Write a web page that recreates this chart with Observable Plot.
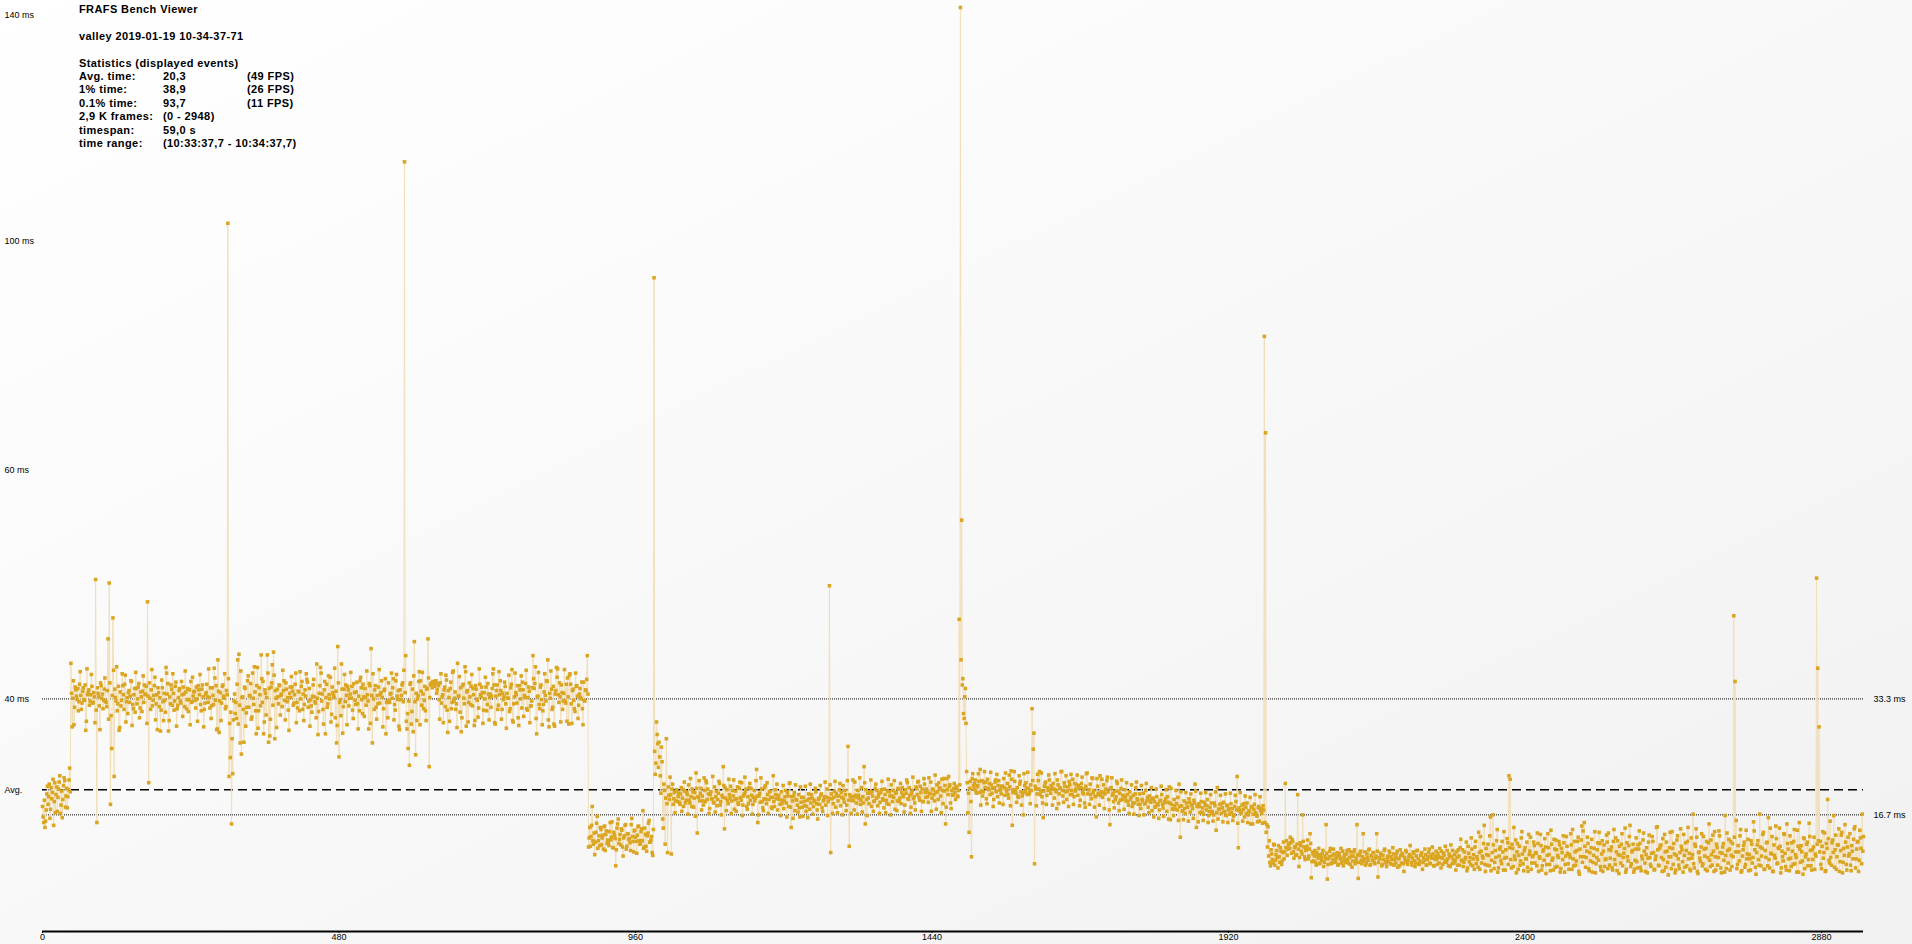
<!DOCTYPE html>
<html><head><meta charset="utf-8">
<script src="https://cdn.jsdelivr.net/npm/d3@7"></script>
<script src="https://cdn.jsdelivr.net/npm/@observablehq/plot@0.6"></script>
<style>
html,body{margin:0;padding:0;}
body{width:1912px;height:944px;overflow:hidden;background:linear-gradient(to bottom right,#ffffff 0%,#f9f9f9 45%,#f1f1f1 100%);}
#wrap{position:relative;width:1912px;height:944px;}
#stats{position:absolute;left:79px;top:3px;font:bold 11px "Liberation Sans",Arial,sans-serif;letter-spacing:0.4px;line-height:13.4px;color:#000;}
#stats .row{display:grid;grid-template-columns:84px 84px auto;white-space:pre;height:13.4px;}
#chart{position:absolute;left:0;top:0;}
</style></head>
<body><div id="wrap"><div id="chart"></div><div id="stats"></div></div>
<script>
// ---- text ----
const headerLines = ["FRAFS Bench Viewer", "", "valley 2019-01-19 10-34-37-71", "", "Statistics (displayed events)"];
const statNames = ["Avg. time:", "1% time:", "0.1% time:", "2,9 K frames:", "timespan:", "time range:"];
const statValues = ["20,3", "38,9", "93,7", "(0 - 2948)", "59,0 s", "(10:33:37,7 - 10:34:37,7)"];
const statFps = ["(49 FPS)", "(26 FPS)", "(11 FPS)", "", "", ""];

// ---- axes ----
const xTicks = [0, 480, 960, 1440, 1920, 2400, 2880];
const yTickValues = [33.3, 66.1, 98.9, 131.2];
const yTickLabels = ["40 ms", "60 ms", "100 ms", "140 ms"];
const refLines = [33.3, 16.7];
const refLabels = ["33.3 ms", "16.7 ms"];
const avgMs = 20.3;

// ---- frame times (ms): even frames ----
const segStart = [17.9,15.6,14.9,17.4,20.8,19.3,16.2,20.6,19.9,15.2,21.3,19.6,17.2,20.4,22.3,18.1,16.3,20.9,21.6,19.4,17.7,20.3,23.4];

const segHigh = [
38.4,29.3,35.9,32.1,34.6,33.2,31.6,35.4,33.8,32.7,34.9,33.1,28.8,37.6,34.2,32.4,33.9,35.1,32.8,33.6,
50.4,15.6,34.1,32.3,35.6,33.4,31.9,34.7,33.0,32.2,41.9,49.9,18.2,26.2,44.9,22.2,33.5,37.9,32.6,28.8,
34.3,33.1,35.2,31.8,36.7,32.9,31.2,34.5,33.7,35.8,32.5,33.9,31.4,34.8,33.3,35.5,32.0,33.6,34.4,32.8,
33.9,35.1,47.2,21.3,33.4,34.6,32.3,33.8,36.4,32.6,28.9,34.2,33.5,31.7,34.9,30.2,33.1,37.8,34.0,28.7,
33.6,35.3,32.4,34.1,33.0,35.7,31.9,33.5,34.8,32.7,33.9,35.0,32.2,34.3,33.2,31.5,34.6,35.8,32.9,33.7,
34.4,32.0,33.3,35.2,33.9,32.5,34.7,33.6,31.8,34.0,35.4,32.8,33.5,34.9,32.3,33.8,37.7,33.1,28.9,38.9,
28.5,34.2,32.7,35.3,33.4,31.9,34.5,101.4,22.2,24.9,15.4,22.6,33.0,31.2,30.5,38.9,39.7,27.0,25.4,33.6,
27.1,34.8,31.3,35.9,32.1,33.7,30.4,37.0,32.5,34.3,28.3,37.8,31.6,33.9,39.6,32.8,28.3,34.6,31.0,39.6,
27.1,28.0,35.0,38.2,40.0,27.6,33.4,34.7,32.6,35.2,33.8,32.2,34.5,33.1,35.6,32.9,31.7,34.1,33.5,35.0,
32.4,33.9,37.0,32.8,34.4,31.6,33.3,35.8,34.0,32.5,33.7,36.1,32.1,34.8,33.2,31.4,35.3,33.6,32.7,38.3,
28.2,34.1,37.8,33.0,31.8,34.6,28.3,35.4,32.6,33.9,36.4,31.1,34.2,33.5,30.6,27.0,40.8,25.0,33.2,38.3,
28.4,34.7,32.9,33.8,35.1,32.3,34.0,33.4,31.7,35.5,33.1,34.3,32.6,33.7,35.9,34.9,31.2,33.6,34.8,32.4,
33.9,29.0,35.2,40.5,27.0,33.3,34.6,32.1,33.8,35.0,32.7,34.2,33.5,31.9,34.7,28.3,33.0,35.6,32.8,34.1,
33.4,36.2,32.5,35.9,33.7,34.5,28.9,33.2,35.3,32.9,110.2,39.5,29.0,26.2,23.8,35.6,31.5,28.6,41.5,25.3,
30.2,33.8,37.2,35.9,32.4,34.0,33.1,31.6,34.7,41.9,23.6,35.3,35.6,35.8,35.4,35.7,34.1,35.5,33.2,35.6,
32.7,33.9,34.6,32.2,36.0,28.5,33.5,34.8,31.9,37.1,33.0,34.3,32.6,38.4,33.7,31.4,28.6,35.2,33.4,37.9,
29.4,34.5,32.8,33.6,35.1,32.3,33.9,30.2,34.7,33.1,32.0,35.4,33.6,34.2,31.7,33.3,35.0,32.5,34.0,33.5,
32.1,34.8,37.6,29.9,33.7,35.3,32.4,33.9,34.5,31.8,33.2,35.7,32.6,34.1,33.4,31.5,34.9,37.5,30.0,33.6,
34.2,32.7,30.6,35.2,33.3,32.0,34.6,33.8,35.5,31.9,33.5,34.4,32.3,33.0,39.5,34.8,37.9,28.3,33.7,32.5,
35.0,33.2,31.6,34.3,33.8,35.9,38.9,29.3,33.4,34.7,32.1,29.7,34.0,37.8,37.6,32.8,33.6,35.3,31.8,34.1,
33.0,35.4,36.3,29.7,36.9,32.6,34.5,33.1,31.5,35.1,33.7,32.4,34.8,33.3,31.9,35.7,33.0,34.5,39.5];

const segLow = [
12.1,14.9,13.6,17.9,12.5,11.0,14.2,16.5,13.0,12.3,
14.6,13.4,11.8,15.1,13.9,12.6,12.7,14.3,13.1,15.7,
12.0,13.8,9.4,14.8,16.1,13.2,12.4,14.5,10.8,13.7,
15.3,12.2,14.0,13.3,11.6,16.2,12.9,14.4,13.5,11.2,
15.0,13.0,12.6,14.7,17.3,12.1,13.9,11.5,14.1,15.9,
12.8,13.6,10.9,93.6];

const segMid = [
22.5,30.0,26.9,27.1,22.3,26.4,16.1,21.1,12.5,27.6,11.3,19.5,22.1,11.1,21.1,19.0,17.0,20.3,18.6,19.8,
18.2,20.6,19.1,17.9,20.1,18.8,19.6,21.0,18.4,19.3,20.4,17.8,19.9,22.7,14.1,19.2,18.7,20.5,19.4,18.1,
20.2,21.6,18.9,19.7,17.6,20.0,19.0,18.5,20.7,19.3,18.0,19.8,21.2,18.6,19.5,23.6,14.7,19.1,20.3,18.3,
19.6,20.8,18.7,19.4,17.5,20.1,19.0,18.4,20.5,19.2,21.3,18.1,19.7,20.0,17.9,19.3,20.6,18.8,19.5,18.2,
20.2,19.1,23.2,15.6,19.4,18.5,20.4,17.7,19.0,20.9,18.3,19.6,18.9,20.1,17.8,19.2,18.6,20.3,19.0,17.4,
19.5,18.2,20.0,18.8,17.6,19.3,18.4,19.9,17.9,21.3,14.9,18.7,19.4,17.3,18.9,18.1,19.6,16.4,18.5,17.8,
19.2,18.0,17.2,18.8,19.7,17.5,18.4,19.1,17.9,18.6,20.0,17.4,18.9,18.2,19.5,17.7,18.7,19.3,18.1,20.4,
18.6,49.5,11.3,19.0,18.3,20.1,17.8,19.4,18.7,20.3,18.0,19.2,20.9,18.5,19.6,18.1,26.5,12.2,19.3,18.8,
21.7,17.4,19.5,18.4,20.2,19.0,18.2,20.6,19.3,23.6,15.4,18.9,19.8,18.3,20.0,17.9,19.4,18.6,20.5,19.1,
18.0,19.7,18.5,20.3,19.0,17.7,19.6,18.8,20.1,18.2,19.4,21.0,18.6,19.2,17.5,19.9,18.7,20.4,19.1,18.3,
20.6,19.3,18.1,19.8,21.3,18.9,19.5,17.8,20.2,19.0,18.4,20.7,19.6,21.5,18.8,19.9,20.4,18.6,21.1,19.2,
20.0,18.5,19.7,21.4,19.1,20.3,18.7,19.9,21.0,18.9,20.5,19.4,21.8,18.3,20.1,15.4,21.9,19.6,20.8,18.4,
20.2,19.5,21.2,18.9,20.6,19.3,44.7,132.3,58.9,36.2,30.5,34.8,22.9,17.0,14.2,21.5,10.7,22.6,20.4,21.7,
19.8,20.9,21.5,23.2,20.1,19.4,21.3,20.6,19.0,21.8,20.3,19.6,21.0,20.5,18.9,21.4,20.0,19.3,21.6,20.2,
19.7,20.8,21.9,19.5,20.4,21.2,19.1,20.7,23.0,15.2,20.3,21.5,19.8,20.6,19.2,21.1,20.0,19.4,16.7,20.9,
21.3,19.6,20.5,19.9,21.0,31.9,26.1,9.7,20.4,19.7,21.6,22.9,20.1,19.3,16.3,20.8,21.4,19.5,20.2,21.7,
19.8,20.6,21.2,19.1,20.3,17.6,21.0,19.7,20.5,22.9,19.4,21.3,20.0,18.9,20.7,21.5,19.6,20.2,21.8,19.3,
20.1,21.0,19.5,20.6,18.8,21.2,19.9,20.4,17.8,22.6,19.7,20.3,21.1,19.0,21.9,20.2,19.4,16.4,20.8,19.6,
22.3,20.0,19.2,21.0,19.7,20.4,22.1,18.9,15.3,20.6,19.5,18.6,20.1,19.3,21.2,18.4,19.8,20.5,18.9,19.4,
20.3,18.7,19.6,18.1,20.0,19.2,17.9,19.5,18.4,20.6,19.0,18.2,19.7,17.6,18.9,19.8,18.3,20.2,18.7,17.8,
19.4,18.5,17.3,19.1,18.6,17.9,19.3,18.1,17.4,18.8,19.6,17.7,18.4,19.0,17.2,18.5,20.7,16.0,18.2,17.6,
18.9,17.5,18.3,19.2,21.1,13.5,18.0,17.3,18.7,16.9,18.4,17.8,19.0,17.1,18.2,17.6,18.8,21.1,14.9,17.9,
18.3,17.0,18.6,17.7,16.8,18.1,17.4,18.9,16.6,17.8,18.4,17.2,16.7,18.0,14.5,20.6,17.5,18.2,16.9,17.7,
18.5,17.1,16.6,18.0,17.4,16.8,18.3,17.6,16.5,17.9,18.6,22.2,12.0,17.3,16.9,18.1,17.5,16.4,17.8,18.4,
16.7,17.2,15.4,17.9,16.8,18.2,17.0,16.5,17.7,15.8,17.3,16.9,18.0];

const segFast = [
85.2,71.4,15.3,15.0,13.0,9.4,11.1,9.8,12.4,10.2,11.6,9.1,10.7,12.0,9.6,11.3,10.4,21.2,13.0,11.8,
12.6,13.5,11.2,12.9,10.5,12.2,11.0,19.6,9.3,12.7,11.5,16.7,12.1,10.3,11.7,13.1,10.8,14.0,7.7,11.4,
10.1,11.6,9.5,10.9,11.9,9.8,10.6,11.2,9.3,10.8,15.3,7.5,10.4,11.5,9.7,10.9,11.8,9.9,10.5,11.3,
9.6,10.7,11.9,10.1,9.4,11.0,10.3,11.6,9.8,10.6,11.4,9.2,10.8,11.7,10.0,15.3,7.6,10.9,11.5,9.7,
14.0,10.4,9.5,11.1,10.2,11.8,9.6,10.7,11.3,9.9,10.5,14.0,7.8,10.6,11.2,9.4,10.9,11.6,10.0,9.3,
10.8,11.5,9.7,10.3,12.0,9.5,10.6,11.1,9.2,10.4,11.7,9.8,10.9,8.6,10.2,11.4,9.6,10.7,12.3,9.9,
10.5,11.2,9.3,10.8,11.6,9.7,10.1,11.0,8.9,10.6,11.8,9.5,10.3,11.3,9.8,10.9,12.1,9.4,10.4,11.5,
9.6,10.7,11.9,9.1,10.5,11.2,9.9,10.2,11.6,9.4,10.8,12.4,9.7,10.3,11.0,8.8,10.6,11.7,9.5,13.2,
10.1,9.3,11.4,10.6,8.7,12.2,10.0,9.6,11.8,10.4,8.9,12.9,10.7,9.2,11.3,13.6,9.8,10.5,15.2,8.6,
11.0,12.5,9.4,16.4,10.2,16.7,9.0,11.6,13.0,8.5,10.8,12.1,9.7,11.4,14.3,8.8,10.6,12.7,22.3,21.8,
9.1,11.9,14.9,10.3,8.4,12.6,10.9,9.5,13.4,11.1,8.7,12.0,10.4,9.2,13.9,11.5,8.9,10.7,12.8,9.8,
11.2,14.1,8.6,10.5,12.3,9.4,11.7,13.3,8.3,10.9,12.0,9.6,14.5,10.2,8.8,11.8,13.1,9.3,10.6,12.4,
9.0,11.3,13.7,8.5,10.8,12.2,9.7,11.0,14.0,8.9,10.4,12.9,9.5,11.6,13.5,8.2,10.7,15.1,14.4,15.6,
9.2,11.5,12.6,8.7,10.1,13.2,9.9,11.9,8.4,10.6,12.7,14.2,9.3,11.1,8.6,12.4,10.3,13.8,9.0,11.7,
10.5,12.1,8.8,14.6,9.6,11.4,13.0,8.3,10.9,12.5,9.4,11.2,14.8,8.9,10.7,12.3,15.2,9.7,11.6,8.5,
10.2,13.4,9.1,11.8,12.6,8.7,10.4,14.1,9.8,11.0,8.4,12.8,10.6,9.3,13.6,11.3,8.9,10.8,15.0,9.5,
11.9,12.4,8.6,10.3,13.9,9.2,11.5,8.1,12.0,10.7,14.3,9.6,11.1,8.8,13.1,10.4,9.0,14.7,11.7,8.5,
10.9,12.7,9.4,14.9,11.2,8.7,10.5,16.8,9.1,12.2,13.5,8.3,11.4,10.0,14.0,9.7,11.8,8.9,12.9,10.6,
15.4,9.3,11.0,13.8,8.6,10.7,12.5,9.5,14.4,11.3,8.4,12.1,10.2,16.6,9.0,11.6,13.2,8.8,10.9,12.6,
45.2,35.8,15.9,9.6,11.4,13.7,8.5,10.8,12.3,9.2,14.5,11.1,8.7,10.4,13.0,9.8,15.7,11.7,8.2,12.4,
10.3,16.8,9.4,11.9,14.2,8.9,10.6,12.8,16.3,9.1,11.2,13.6,8.6,10.9,15.1,9.7,12.0,14.8,8.4,11.5,
10.1,13.9,9.3,15.4,11.8,8.7,10.5,12.7,9.6,14.6,11.0,8.5,12.2,15.6,9.9,11.4,8.2,13.3,10.7,12.5,
9.4,15.5,11.6,8.8,10.3,13.5,11.1,50.6,37.7,29.3,12.9,9.0,14.3,11.3,8.6,12.6,18.9,10.2,15.8,9.5,
13.1,16.6,11.7,8.9,12.4,14.7,10.0,13.8,8.4,11.9,15.3,9.6,12.1,10.8,14.0,8.7,11.5,13.2,15.0,10.4,
12.8,8.6,14.5,11.9,16.8,13.6];

// ---- frame times (ms): odd frames ----
const segStartOdd = [16.4,18.8,15.8,19.7,18.2,21.1,17.5,19.0,21.8,18.6,17.0,20.7,19.2,21.4,16.9,20.1,18.9,22.0,17.8,20.5,19.3,21.7,20.0];

const segHighOdd = [
34.1,33.4,29.6,35.0,33.7,34.8,32.9,37.2,31.8,34.4,33.2,35.3,30.1,33.9,34.6,33.0,36.8,32.7,34.2,29.9,
31.7,34.9,33.6,28.9,35.2,34.0,33.1,36.3,32.8,34.5,30.4,35.6,30.9,33.8,37.4,34.7,33.0,31.6,35.1,29.2,
32.3,36.9,33.9,35.4,30.0,33.5,34.2,32.8,35.9,29.5,31.9,34.8,37.1,32.6,35.0,30.6,34.3,31.5,36.6,35.3,
34.0,29.8,33.7,35.6,31.8,37.5,33.1,35.2,30.3,33.9,34.9,32.2,28.7,36.0,32.9,34.1,31.4,37.0,35.5,30.2,
32.6,34.7,36.9,31.7,35.1,29.4,32.4,34.5,33.0,35.8,30.8,34.0,37.3,31.9,34.8,33.2,29.6,32.8,36.4,34.3,
33.1,35.0,30.1,34.6,36.8,31.6,35.3,29.3,32.7,34.2,33.6,37.6,32.0,30.5,34.9,32.5,36.3,35.2,29.0,34.4,
33.0,30.2,35.1,33.7,36.9,32.2,33.9,36.2,29.8,31.4,27.6,30.3,34.0,32.8,35.4,29.7,32.4,37.3,33.5,31.8,
35.0,29.4,32.1,36.6,33.8,35.5,30.7,33.4,37.9,31.6,35.2,29.1,34.9,32.3,36.2,35.8,30.0,34.1,33.5,37.0,
34.8,30.4,35.6,32.4,36.7,34.5,29.2,33.6,35.3,31.0,34.0,37.4,35.9,30.3,34.7,33.5,28.8,35.0,36.5,34.4,
32.7,35.4,29.9,32.0,34.3,37.2,35.1,31.8,30.2,34.6,36.9,35.7,33.0,29.4,32.3,33.7,36.1,32.9,30.6,33.4,
31.5,35.2,37.0,34.0,29.7,35.8,33.5,32.1,36.6,33.3,30.0,35.0,33.8,37.7,34.4,29.5,35.6,32.8,30.9,34.7,
32.2,36.8,35.3,29.6,34.6,33.4,37.1,35.1,30.5,34.2,32.5,35.7,29.0,31.6,36.4,33.2,35.4,30.8,33.5,37.3,
33.0,35.5,29.8,33.8,36.9,31.8,35.2,30.4,32.6,37.5,33.9,35.9,29.3,34.5,36.2,32.8,30.6,33.1,34.0,37.0,
34.9,30.3,31.7,36.8,33.2,29.4,34.6,33.8,35.6,37.4,34.2,30.1,31.2,33.0,35.4,29.7,34.7,36.6,32.9,34.1,
33.3,35.8,29.6,34.4,37.1,31.9,35.1,30.2,34.8,36.3,33.5,35.5,34.9,35.6,35.1,35.9,34.6,35.2,30.4,36.9,
33.6,29.9,35.0,36.7,31.7,34.5,30.1,35.7,32.8,37.3,33.4,31.8,29.2,33.7,36.5,34.9,30.6,35.4,32.6,37.2,
34.3,30.0,35.6,32.5,36.8,34.8,29.5,35.2,33.3,30.7,37.6,33.9,35.0,29.8,34.2,36.4,31.6,35.5,30.3,34.0,
33.7,36.9,35.3,29.7,34.5,31.8,37.2,35.9,30.4,34.1,33.6,35.1,29.1,33.4,36.7,31.9,35.4,30.2,32.6,37.0,
33.9,35.2,29.5,34.6,36.6,35.7,30.8,33.5,37.4,31.7,35.0,29.9,32.3,34.9,36.2,35.5,30.5,33.6,37.1,31.9,
35.3,29.6,32.5,36.9,33.0,35.8,30.3,34.1,37.3,31.8,35.1,29.4,34.5,36.4,33.9,35.6,30.0,34.2,33.0,37.5,
32.7,30.1,33.6,36.7,35.4,29.8,34.7,31.9,37.0,35.2,30.5,34.0,33.5,35.7,29.6,33.1,34.6,36.1,34.0];

const segLowOdd = [
13.4,12.2,15.2,13.0,14.1,12.8,15.5,11.9,13.7,14.9,
12.4,13.8,15.0,11.6,14.4,13.1,12.3,15.6,13.5,12.0,
14.2,13.3,11.7,15.4,12.6,13.9,14.7,12.1,13.4,15.2,
11.8,14.0,13.2,12.7,15.3,13.6,11.4,14.5,12.9,13.8,
15.1,12.5,14.3,13.0,11.9,14.8,12.2,13.7,15.5,12.8,
13.1,11.3,14.6,25.8];

const segMidOdd = [
24.1,28.2,23.5,25.0,19.8,24.3,14.8,20.2,19.1,18.3,20.7,18.9,19.6,20.4,18.2,19.9,18.7,20.1,19.3,18.5,
19.7,17.2,20.3,21.4,18.4,19.9,16.8,18.8,21.9,17.9,20.0,19.1,16.5,20.5,19.3,21.6,19.8,17.4,18.7,22.0,
18.6,21.3,20.4,16.9,19.6,19.0,22.2,18.4,17.1,20.1,18.9,21.5,18.1,16.7,19.2,20.9,20.6,17.3,18.8,21.8,
19.1,16.9,20.2,21.7,18.9,17.2,20.7,18.2,21.4,18.8,16.6,19.4,22.1,20.4,17.5,18.3,21.2,20.5,16.8,19.2,
18.7,21.6,19.4,16.7,19.8,22.0,18.6,17.3,20.6,18.9,21.3,16.9,20.0,19.2,17.6,22.3,17.9,19.6,21.1,19.3,
18.9,16.6,18.3,20.9,18.7,20.2,16.4,19.4,21.2,17.8,19.3,16.2,19.9,21.0,18.8,17.1,17.7,20.7,19.2,16.5,
18.6,20.8,17.9,16.3,19.0,21.1,19.6,16.8,18.8,20.5,18.3,16.1,19.1,20.9,19.7,17.2,18.9,21.4,19.2,16.6,
19.1,21.0,19.7,16.9,19.2,21.5,19.8,17.0,19.4,21.2,19.9,16.7,19.0,20.2,17.3,21.6,18.8,19.6,16.9,19.3,
18.7,21.4,19.2,16.8,19.5,22.0,18.8,17.1,18.4,21.3,20.3,16.6,19.1,19.8,21.7,20.0,17.2,18.7,21.1,20.2,
19.3,16.9,19.9,21.5,18.8,20.4,17.0,18.3,21.8,20.0,16.7,19.4,20.2,21.6,19.8,17.3,20.5,18.6,21.2,19.9,
19.6,17.1,20.3,21.7,19.0,20.6,16.9,19.8,22.1,19.3,17.4,20.5,21.4,19.2,20.8,17.2,18.6,21.9,19.9,20.4,
19.3,22.0,19.8,17.2,20.4,19.6,22.4,17.5,20.0,21.3,20.6,17.0,20.2,21.9,20.9,17.8,20.3,22.2,21.0,17.6,
19.6,20.5,19.9,20.8,19.4,20.2,21.0,38.9,35.3,31.2,33.6,29.8,21.3,19.8,20.5,18.6,21.9,20.9,21.2,20.1,
20.7,22.6,19.9,18.1,21.6,20.0,22.9,21.4,18.3,20.5,21.2,22.8,19.8,17.9,20.6,21.7,22.5,20.9,18.4,20.4,
20.8,18.2,20.6,22.7,20.1,19.6,22.4,18.0,21.8,19.9,22.9,20.2,18.5,19.4,22.3,21.5,18.1,19.8,22.6,20.0,
20.5,22.8,19.7,18.3,20.2,21.6,28.4,20.8,18.0,22.5,20.4,19.6,22.7,18.4,20.1,21.2,18.2,20.6,22.4,20.3,
20.9,18.1,20.4,22.6,20.0,21.7,18.3,20.6,22.9,20.2,18.5,20.8,22.3,20.1,17.9,21.0,22.5,19.6,18.2,21.2,
20.4,22.4,20.9,18.0,20.6,22.1,19.7,18.4,20.8,22.7,20.3,18.2,19.6,22.0,19.9,17.8,19.3,21.9,19.8,18.1,
19.5,21.8,19.9,17.6,20.3,21.6,20.0,17.4,20.5,22.0,19.8,17.7,18.9,21.5,20.1,17.3,18.8,21.7,19.5,17.5,
19.2,21.3,18.6,16.9,18.9,21.0,18.4,16.8,19.7,21.4,18.8,16.6,18.2,20.9,18.7,16.7,18.3,21.2,19.2,17.0,
18.8,20.6,19.0,16.4,17.8,20.4,18.3,16.2,18.7,20.8,18.2,16.5,18.6,20.3,19.3,16.1,18.4,20.5,17.5,16.6,
18.0,20.2,17.4,15.9,17.9,20.0,17.2,16.0,17.6,19.9,17.8,15.8,18.5,19.7,18.1,16.2,18.4,20.1,18.0,15.7,
17.9,19.8,17.1,15.9,18.5,19.9,18.0,15.6,17.2,19.6,16.9,15.8,18.4,20.0,17.0,16.1,17.5,19.5,18.3,15.7,
17.2,19.7,18.1,15.6,17.6,19.8,17.0,15.9,16.7,19.5,17.4,15.5,17.7,19.9,17.1,15.8,18.3,19.4,16.9,15.6,
17.3,19.2,17.8,15.4,17.5,19.6,16.7,15.7,17.9,19.3,17.6,15.5,17.4];

const segFastOdd = [
15.6,14.2,12.1,10.8,9.9,11.7,10.3,12.5,9.5,11.0,10.6,12.3,9.9,11.5,10.1,12.8,11.4,12.0,10.9,12.4,
11.9,12.7,13.2,11.4,12.0,10.9,12.5,11.8,10.6,12.3,11.1,12.9,10.7,11.6,12.2,10.4,11.8,12.6,10.0,11.1,
10.8,9.9,11.3,10.5,9.7,11.0,10.2,11.6,9.9,10.4,11.2,9.6,10.7,11.9,9.8,10.3,11.1,10.0,10.8,9.5,
11.2,10.4,9.8,11.5,10.6,9.9,11.1,10.3,11.7,9.6,10.8,10.1,11.4,9.7,10.5,11.0,9.9,11.3,10.2,10.7,
10.1,11.4,9.8,10.6,11.7,9.5,10.9,10.2,11.3,9.7,10.8,11.5,9.9,10.4,11.0,9.6,10.3,11.8,9.8,10.5,
10.0,11.3,10.7,9.6,11.1,10.3,9.8,11.5,10.5,9.4,10.9,11.2,9.7,10.6,11.6,9.9,10.2,11.0,10.8,9.5,
11.4,10.1,9.8,11.6,10.4,9.6,10.9,11.3,9.9,10.2,11.0,9.5,10.7,11.8,9.7,10.5,11.1,9.4,10.8,10.3,
11.2,9.8,10.6,11.5,9.6,10.9,12.2,9.9,10.4,11.1,9.3,10.7,11.6,9.8,10.1,11.4,9.5,10.8,12.0,10.2,
11.7,9.9,10.4,12.8,9.1,11.2,10.6,13.4,9.4,11.0,12.1,9.7,10.3,14.2,8.9,11.5,10.8,12.6,9.6,11.9,
9.5,10.9,13.7,8.7,11.3,12.4,9.9,10.6,14.6,9.1,11.8,10.2,12.9,8.8,10.5,11.7,13.3,9.6,12.0,10.3,
12.5,9.3,10.8,13.1,11.4,8.9,12.2,10.1,14.3,9.7,11.6,10.4,12.8,8.6,11.0,13.5,9.8,10.9,12.3,11.3,
9.4,12.6,10.7,13.9,8.8,11.5,10.2,12.1,9.6,14.0,11.0,8.7,12.5,10.5,13.2,9.2,11.7,10.9,12.9,8.5,
11.9,10.3,12.7,9.6,13.6,11.2,8.9,10.6,12.4,14.6,9.4,11.4,10.1,12.9,8.6,11.8,13.1,9.9,10.7,12.2,
10.6,13.5,9.0,11.3,12.0,8.5,10.9,14.3,9.7,11.7,10.2,12.6,8.8,13.0,11.5,9.3,10.4,12.8,14.1,9.5,
11.6,9.1,12.9,10.3,13.4,8.7,11.0,12.2,9.8,14.0,10.6,11.9,8.5,12.7,10.1,13.6,9.3,11.4,12.5,8.9,
11.8,10.0,12.4,14.4,9.2,10.8,13.1,11.5,8.6,12.0,10.5,13.8,9.6,11.2,12.9,8.8,10.3,14.9,11.7,9.4,
12.3,10.6,13.3,8.7,11.4,12.8,9.9,10.7,14.2,9.0,11.9,12.6,8.4,10.9,13.7,9.5,11.3,12.2,10.0,13.9,
9.2,11.6,12.9,10.4,8.9,13.4,11.0,9.7,12.5,14.7,8.6,11.3,10.5,12.1,9.4,13.6,10.8,11.9,8.7,12.7,
10.2,13.1,9.5,11.5,14.3,8.8,12.0,10.6,13.7,9.1,11.2,12.6,8.5,10.9,14.1,9.8,11.8,12.9,9.3,10.7,
13.5,11.4,9.0,12.3,10.1,14.6,8.7,11.7,12.8,9.6,10.4,13.2,11.0,8.8,12.5,10.6,14.4,9.2,11.3,13.0,
9.5,12.1,10.8,13.9,8.9,11.6,12.7,9.4,10.3,14.8,11.1,8.6,12.4,10.5,13.3,9.8,11.9,12.2,9.1,10.7,
14.0,11.2,8.8,12.6,10.4,13.7,9.3,11.5,12.9,9.7,10.6,14.5,8.5,11.8,12.3,10.1,13.4,9.0,11.1,12.8,
10.3,13.6,9.4,11.7,12.1,8.9,10.8,12.5,13.0,11.4,9.6,12.2,10.5,14.1,8.7,11.9,13.3,9.8,10.6,12.7,
11.3,9.2,13.8,10.7,12.4,8.6,11.6,14.2,9.9,10.9,12.8,8.8,13.5,11.1,9.5,12.3,10.4,14.7,9.1,11.8,
12.9,10.2,13.4,9.7,11.5];

// ---- build (even frames from the first set, odd frames from the second) ----
const evenMs = [...segStart, ...segHigh, ...segLow, ...segMid, ...segFast];
const oddMs = [...segStartOdd, ...segHighOdd, ...segLowOdd, ...segMidOdd, ...segFastOdd];
const frames = [];
evenMs.forEach((ms, i) => {
  frames.push({frame: 2 * i, ms});
  if (i < oddMs.length) frames.push({frame: 2 * i + 1, ms: oddMs[i]});
});

const stats = document.getElementById("stats");
const addRow = (cells) => {
  const r = document.createElement("div");
  r.className = "row";
  cells.forEach((c) => {
    const s = document.createElement("span");
    s.textContent = c;
    if (cells.length === 1) s.style.gridColumn = "1 / span 3";
    r.appendChild(s);
  });
  stats.appendChild(r);
};
headerLines.forEach(l => addRow([l]));
statNames.forEach((n, i) => addRow([n, statValues[i], statFps[i]]));

const font = '"Liberation Sans", Arial, sans-serif';
const chart = Plot.plot({
  width: 1912,
  height: 944,
  marginLeft: 42,
  marginRight: 49,
  marginTop: 0,
  marginBottom: 13,
  style: {background: "transparent", fontFamily: font, fontSize: "9px", color: "#000", overflow: "visible"},
  x: {domain: [0, 2948], label: null},
  y: {domain: [0, 133.3], axis: null},
  marks: [
    Plot.ruleY(refLines, {stroke: "#000", strokeWidth: 1, strokeDasharray: "1,1"}),
    Plot.ruleY([avgMs], {stroke: "#000", strokeWidth: 1.5, strokeDasharray: "9,5"}),
    Plot.line(frames, {x: "frame", y: "ms", stroke: "#f2dfba", strokeWidth: 1}),
    Plot.dot(frames, {x: "frame", y: "ms", symbol: "square", r: 2, fill: "#daa520"}),
    Plot.ruleY([0], {stroke: "#000", strokeWidth: 2}),
    Plot.axisX({ticks: xTicks, tickFormat: "d", tickSize: 2, tickPadding: 0, fontSize: 9, stroke: "#000", fill: "#000", label: null}),
    Plot.text(yTickValues, {y: d => d, text: (d, i) => yTickLabels[i], frameAnchor: "left", textAnchor: "start", dx: -38, fontSize: 9, fill: "#000"}),
    Plot.text([avgMs], {y: d => d, text: () => "Avg.", frameAnchor: "left", textAnchor: "start", dx: -38, fontSize: 9, fill: "#000"}),
    Plot.text(refLines, {y: d => d, text: (d, i) => refLabels[i], frameAnchor: "right", textAnchor: "start", dx: 10, fontSize: 9, fill: "#000"})
  ]
});
document.getElementById("chart").appendChild(chart);
</script>
</body></html>
